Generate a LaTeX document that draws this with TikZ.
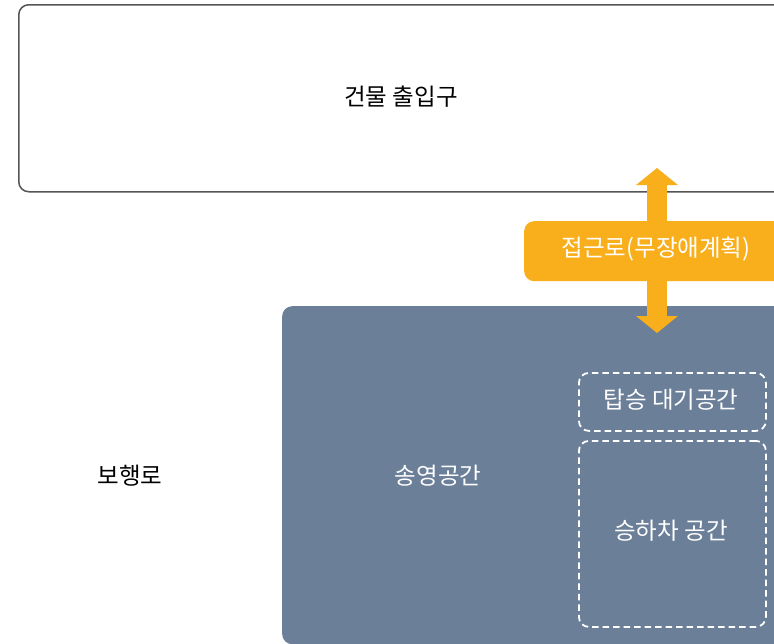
\documentclass[tikz,border=0pt]{standalone}
\usepackage{fontspec}
\setmainfont{Noto Sans CJK KR}
\usetikzlibrary{arrows.meta}
\definecolor{slate}{HTML}{6B7F99}
\definecolor{amber}{HTML}{F9AE1B}
\definecolor{edge}{HTML}{555555}
\begin{document}
\begin{tikzpicture}[x=1pt,y=-1pt,
  txt/.style={font=\fontsize{23.5}{28}\selectfont},
  region/.style={rectangle, rounded corners=10pt, inner sep=0pt, anchor=north west},
  dashbox/.style={rectangle, rounded corners=10pt, draw=white, line width=1.8pt, dash pattern=on 6.5pt off 4pt, inner sep=0pt, anchor=north west},
  bigarrow/.style={amber, line width=20pt, {Triangle[width=41pt,length=17pt]}-{Triangle[width=41pt,length=17pt]}}]
\useasboundingbox (0,0) rectangle (774,643);
\clip (0,0) rectangle (774,643);
% building entrance
\node[region, draw=edge, line width=1.5pt, fill=white, minimum width=780pt, minimum height=187pt] (bldg) at (18,4) {};
\node[txt] (bldgt) at (401,97) {건물 출입구};
% drop-off area
\node[region, fill=slate, minimum width=520pt, minimum height=338pt] (area) at (282,306) {};
% access path label box
\node[region, fill=amber, minimum width=270pt, minimum height=60pt] (path) at (524,221) {};
% arrow
\coordinate (atop) at (657,168);
\coordinate (abot) at (657,333);
\draw[bigarrow] (abot) -- (atop);
\node[txt, text=white] (patht) at (656,249) {접근로(무장애계획)};
% dashed sub-areas
\node[dashbox, minimum width=187pt, minimum height=58pt] (wait) at (578,372) {};
\node[txt, text=white] (waitt) at (671,400) {탑승 대기공간};
\node[dashbox, minimum width=187pt, minimum height=186pt] (stop) at (578,440) {};
\node[txt, text=white] (stopt) at (671,531) {승하차 공간};
\node[txt, text=white] (areat) at (438,476) {송영공간};
\node[txt] (walk) at (130,476) {보행로};
\end{tikzpicture}
\end{document}
